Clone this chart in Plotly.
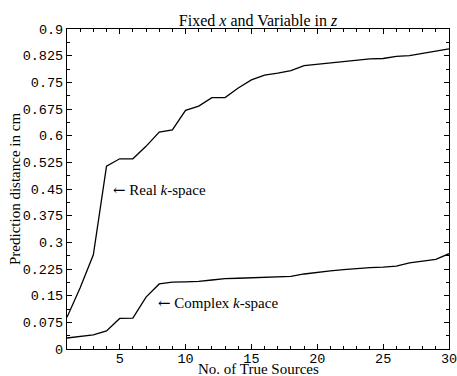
import plotly.graph_objects as go

sources = list(range(1, 31))
real_k = [0.089, 0.172, 0.265, 0.514, 0.535, 0.535, 0.570, 0.610, 0.616, 0.671,
          0.683, 0.707, 0.707, 0.734, 0.757, 0.770, 0.776, 0.783, 0.797, 0.801,
          0.804, 0.807, 0.811, 0.816, 0.817, 0.823, 0.825, 0.831, 0.837, 0.844]
complex_k = [0.031, 0.035, 0.040, 0.051, 0.086, 0.087, 0.146, 0.183, 0.188, 0.189,
             0.190, 0.194, 0.198, 0.199, 0.200, 0.201, 0.202, 0.204, 0.211, 0.216,
             0.220, 0.223, 0.227, 0.229, 0.230, 0.233, 0.242, 0.247, 0.252, 0.268]
x_ticks = [5, 10, 15, 20, 25, 30]
y_ticks = [0, 0.075, 0.15, 0.225, 0.3, 0.375, 0.45, 0.525, 0.6, 0.675, 0.75, 0.825, 0.9]
y_tick_text = ["0", "0.075", "0.15", "0.225", "0.3", "0.375", "0.45", "0.525",
               "0.6", "0.675", "0.75", "0.825", "0.9"]

serif = "Liberation Serif, Times New Roman, serif"
mono = "Liberation Mono, Courier New, monospace"
arrow = '<span style="font-family:DejaVu Serif">←</span>'

fig = go.Figure()
fig.add_trace(go.Scatter(x=sources, y=real_k, mode="lines",
                         line=dict(color="black", width=1.3), showlegend=False))
fig.add_trace(go.Scatter(x=sources, y=complex_k, mode="lines",
                         line=dict(color="black", width=1.3), showlegend=False))

fig.add_annotation(x=4.37, y=0.448, xref="x", yref="y", text=arrow + " Real <i>k</i>-space",
                   showarrow=False, xanchor="left", yanchor="middle",
                   font=dict(family=serif, size=15, color="black"))
fig.add_annotation(x=7.72, y=0.129, xref="x", yref="y", text=arrow + " Complex <i>k</i>-space",
                   showarrow=False, xanchor="left", yanchor="middle",
                   font=dict(family=serif, size=15, color="black"))

# axis titles
fig.add_annotation(x=0.5, y=0, xref="paper", yref="paper", text="No. of True Sources",
                   showarrow=False, xanchor="center", yanchor="middle", yshift=-20,
                   font=dict(family=serif, size=15, color="black"))
fig.add_annotation(x=0, y=0.5, xref="paper", yref="paper", text="Prediction distance in cm",
                   showarrow=False, xanchor="center", yanchor="middle", xshift=-52,
                   textangle=-90, font=dict(family=serif, size=15, color="black"))

axis_common = dict(showline=True, linecolor="black", linewidth=1.2, mirror="allticks",
                   ticks="inside", tickcolor="black", showgrid=False, zeroline=False,
                   automargin=False, ticklabeloverflow="allow",
                   tickfont=dict(family=mono, size=13.5, color="black"))

fig.update_xaxes(range=[1, 30], tickvals=x_ticks, ticklen=5, tickwidth=1,
                 ticklabelstandoff=-3,
                 minor=dict(dtick=1, tick0=0, ticks="inside", ticklen=3, tickcolor="black"),
                 **axis_common)
fig.update_yaxes(range=[0, 0.9], tickvals=y_ticks, ticktext=y_tick_text, ticklen=5, tickwidth=1,
                 minor=dict(dtick=0.0375, tick0=0, ticks="inside", ticklen=3, tickcolor="black"),
                 **axis_common)

fig.update_layout(
    width=457, height=376,
    margin=dict(l=67, r=8, t=29, b=27),
    paper_bgcolor="white", plot_bgcolor="white",
    title=dict(text="Fixed <i>x</i> and Variable in <i>z</i>", x=0.5, xref="paper",
               y=1 - 20 / 376, yref="container", yanchor="middle", xanchor="center",
               font=dict(family=serif, size=16, color="black")),
)

fig.write_html("out.html")
